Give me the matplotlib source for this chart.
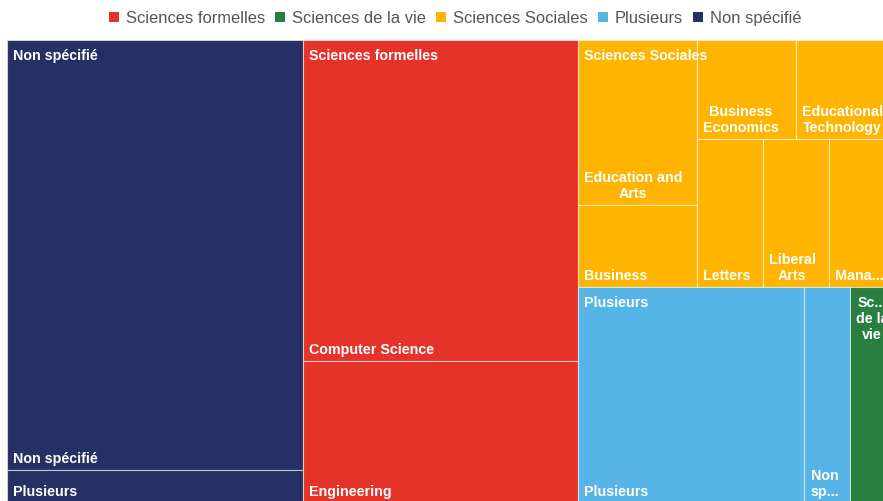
import matplotlib.pyplot as plt
from matplotlib.patches import Rectangle

plt.rcParams['font.family'] = ['Liberation Sans', 'DejaVu Sans']

# Données
groups = ["Non spécifié", "Sciences formelles", "Sciences Sociales", "Plusieurs", "Sciences de la vie"]
group_colors = ["#253064", "#E5332A", "#FFB400", "#56B4E6", "#2A7F40"]
legend_order = ["Sciences formelles", "Sciences de la vie", "Sciences Sociales", "Plusieurs", "Non spécifié"]

non_specifie_names = ["Non spécifié", "Plusieurs"]
non_specifie_vals = [13, 1]
formelles_names = ["Computer Science", "Engineering"]
formelles_vals = [9, 4]
sociales_names = ["Education and Arts", "Business", "Business Economics", "Educational Technology",
                  "Letters", "Liberal Arts", "Management"]
sociales_vals = [2, 1, 1, 1, 1, 1, 1]
plusieurs_names = ["Plusieurs", "Non spécifié"]
plusieurs_vals = [5, 1]
vie_names = ["Sciences de la vie"]
vie_vals = [1]

children = {
    "Non spécifié": list(zip(non_specifie_names, non_specifie_vals)),
    "Sciences formelles": list(zip(formelles_names, formelles_vals)),
    "Sciences Sociales": list(zip(sociales_names, sociales_vals)),
    "Plusieurs": list(zip(plusieurs_names, plusieurs_vals)),
    "Sciences de la vie": list(zip(vie_names, vie_vals)),
}

# libellés coupés / tronqués comme à l'écran
group_text = {"Sciences de la vie": "Sc...\nde la\nvie"}
child_text = {
    ("Sciences Sociales", "Education and Arts"): "Education and\nArts",
    ("Sciences Sociales", "Business Economics"): "Business\nEconomics",
    ("Sciences Sociales", "Educational Technology"): "Educational\nTechnology",
    ("Sciences Sociales", "Liberal Arts"): "Liberal\nArts",
    ("Sciences Sociales", "Management"): "Mana...",
    ("Plusieurs", "Non spécifié"): "Non\nsp...",
    ("Sciences de la vie", "Sciences de la vie"): "",
}


def layout(items, x, y, w, h, out):
    # découpage binaire : on coupe le long du plus grand côté
    if len(items) == 1:
        out.append((items[0][0], x, y, w, h))
        return
    total = sum(v for _, v in items)
    k = 1
    acc = items[0][1]
    while k < len(items) - 1 and acc + items[k][1] < total / 2:
        acc += items[k][1]
        k += 1
    left, right = items[:k], items[k:]
    f = acc / total
    if w >= 0.85 * h:
        layout(left, x, y, w * f, h, out)
        layout(right, x + w * f, y, w * (1 - f), h, out)
    else:
        layout(left, x, y, w, h * f, out)
        layout(right, x, y + h * f, w, h * (1 - f), out)


fig = plt.figure(figsize=(8.83, 5.02), dpi=100)
ax = fig.add_axes([0, 0, 1, 1])
ax.set_xlim(0, 883)
ax.set_ylim(502, 0)
ax.axis("off")

X0, Y0, W, H = 7, 41, 888, 463
top_items = sorted([(g, sum(v for _, v in children[g])) for g in groups], key=lambda t: -t[1])
top_rects = []
layout(top_items, X0, Y0, W, H, top_rects)

label_kw = dict(color="white", fontsize=10.3, fontweight="bold", multialignment="center", clip_on=True)

for g, gx, gy, gw, gh in top_rects:
    color = group_colors[groups.index(g)]
    kids = sorted(children[g], key=lambda t: -t[1])
    rects = []
    layout(kids, gx, gy, gw, gh, rects)
    for name, cx, cy, cw, ch in rects:
        ax.add_patch(Rectangle((cx, cy), cw, ch, facecolor=color,
                               edgecolor=(1, 1, 1, 0.55), linewidth=0.8))
        txt = child_text.get((g, name), name)
        if txt:
            ax.text(cx + 6, cy + ch - 4.5, txt, ha="left", va="bottom", zorder=3, **label_kw)
    ax.text(gx + 6, gy + 8, group_text.get(g, g), ha="left", va="top", zorder=4, **label_kw)

# Légende (dessinée à la main pour garder les textes sur la même ligne de base)
renderer = fig.canvas.get_renderer()
leg_y = 18
box, pad, gap = 10, 7, 10
entries = []
x = 0
for g in legend_order:
    t = ax.text(0, leg_y + 5, g, fontsize=11.9, color="#555555", ha="left", va="baseline")
    tw = t.get_window_extent(renderer).width
    entries.append((g, t, x))
    x += box + pad + tw + gap
total_w = x - gap
start = 455 - total_w / 2
for g, t, ex in entries:
    ax.add_patch(Rectangle((start + ex, leg_y - box / 2), box, box,
                           facecolor=group_colors[groups.index(g)], edgecolor="none"))
    t.set_x(start + ex + box + pad)

fig.savefig("out.png", dpi=100)
